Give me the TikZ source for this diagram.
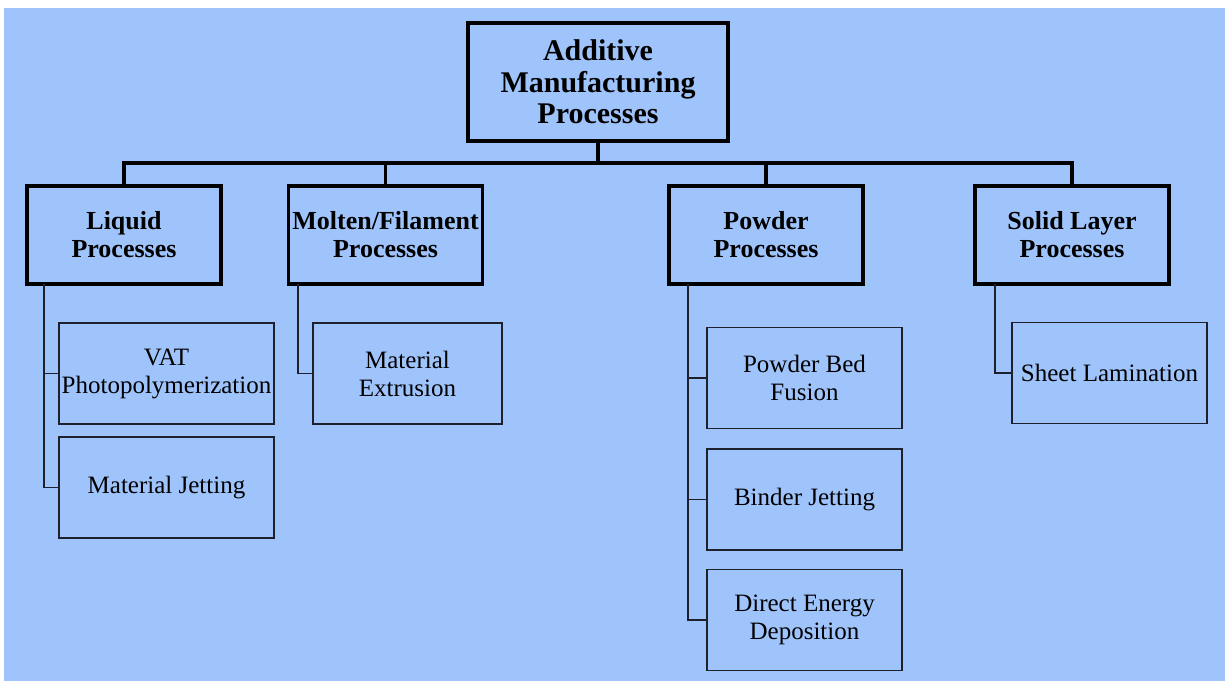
\documentclass[tikz,border=0pt]{standalone}
\usepackage{fontspec}
\setmainfont{Liberation Serif}
\definecolor{bgblue}{RGB}{159,196,252}
\definecolor{thinline}{RGB}{30,32,45}
\begin{document}
\begin{tikzpicture}[x=1pt,y=-1pt,
  topbox/.style={draw=black,line width=3.6pt,inner sep=0pt,align=center,
    font=\fontsize{30}{31.5}\selectfont\bfseries},
  catbox/.style={draw=black,line width=3.6pt,inner sep=0pt,align=center,
    minimum width=194pt,minimum height=98pt,
    font=\fontsize{26}{28}\selectfont\bfseries},
  leafbox/.style={draw=thinline,line width=1.8pt,inner sep=0pt,align=center,
    minimum height=101pt,font=\fontsize{25}{28}\selectfont},
  bus/.style={draw=black,line width=3.6pt},
  branch/.style={draw=thinline,line width=1.8pt}]
\useasboundingbox (0,0) rectangle (1225,681);
\fill[white] (0,0) rectangle (1225,681);
\fill[bgblue] (4,8) rectangle (1225,681);

% top
\node[topbox,minimum width=260pt,minimum height=118pt] (top) at (598,82) {Additive\\Manufacturing\\Processes};

% categories
\node[catbox] (liq) at (124,235) {Liquid\\Processes};
\node[catbox] (mol) at (385.5,235) {Molten/Filament\\Processes};
\node[catbox] (pow) at (766,235) {Powder\\Processes};
\node[catbox] (sol) at (1072,235) {Solid Layer\\Processes};

% leaves
\node[leafbox,minimum width=215pt] (vat) at (166.5,373.5) {VAT\\Photopolymerization};
\node[leafbox,minimum width=215pt] (mj) at (166.5,487.5) {Material Jetting};
\node[leafbox,minimum width=189pt] (me) at (407.5,373.5) {Material\\Extrusion};
\node[leafbox,minimum width=195pt] (pbf) at (804.5,378) {Powder Bed\\Fusion};
\node[leafbox,minimum width=195pt] (bj) at (804.5,499.5) {Binder Jetting};
\node[leafbox,minimum width=195pt] (ded) at (804.5,620) {Direct Energy\\Deposition};
\node[leafbox,minimum width=195pt] (sl) at (1109.5,373) {Sheet Lamination};

% bus
\coordinate (busc) at (598,163);
\draw[bus] (top.south) -- (busc);
\draw[bus] (liq.north) |- (busc) -| (sol.north);
\draw[bus] (mol.north) -- (mol.north |- busc);
\draw[bus] (pow.north) -- (pow.north |- busc);

% branches
\coordinate (lqs) at (44,284);
\coordinate (mos) at (298,284);
\coordinate (pws) at (688,284);
\coordinate (sos) at (995,284);
\draw[branch] (lqs) |- (mj.west);
\draw[branch] (lqs |- vat.west) -- (vat.west);
\draw[branch] (mos) |- (me.west);
\draw[branch] (pws) |- (ded.west);
\draw[branch] (pws |- pbf.west) -- (pbf.west);
\draw[branch] (pws |- bj.west) -- (bj.west);
\draw[branch] (sos) |- (sl.west);
\end{tikzpicture}
\end{document}
